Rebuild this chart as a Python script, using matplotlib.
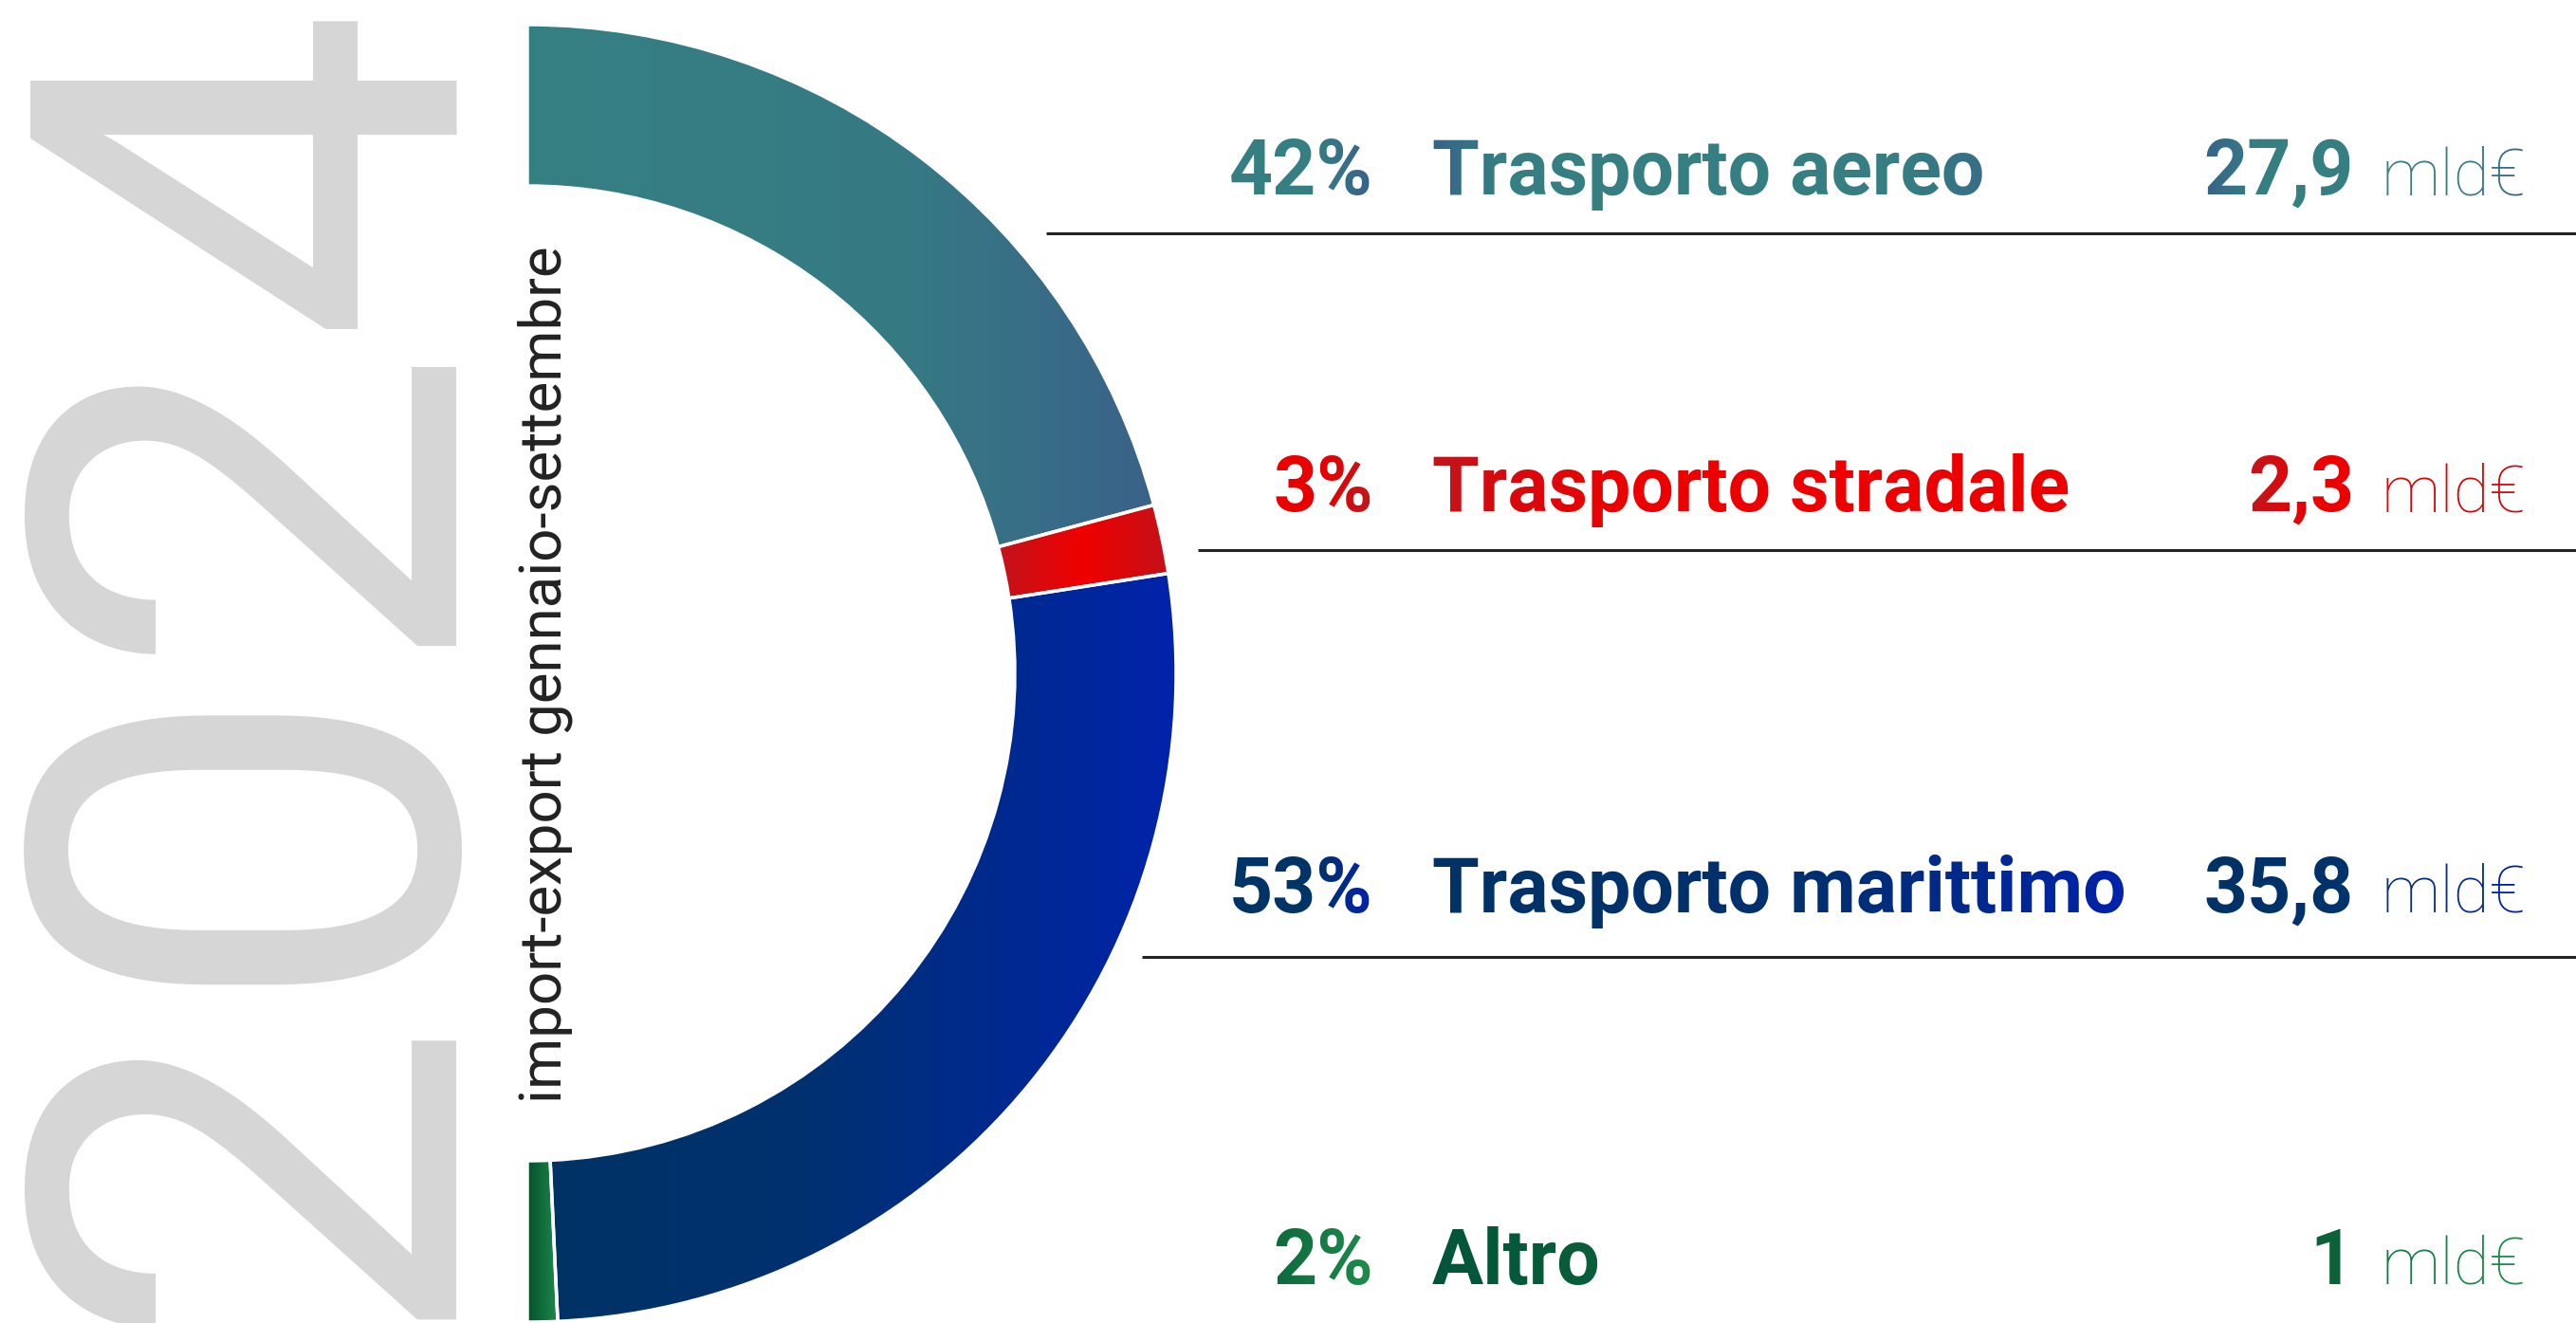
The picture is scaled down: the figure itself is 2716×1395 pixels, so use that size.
import matplotlib
matplotlib.use("Agg")
import matplotlib.pyplot as plt
import numpy as np
from matplotlib.patches import Wedge
from matplotlib.colors import LinearSegmentedColormap

plt.rcParams['font.family'] = ['Roboto', 'DejaVu Sans']

# data
modes = ["Trasporto aereo", "Trasporto stradale", "Trasporto marittimo", "Altro"]
shares = ["42%", "3%", "53%", "2%"]
values = [27.9, 2.3, 35.8, 1.0]
value_labels = ["27,9", "2,3", "35,8", "1"]

# ring gradients (left to right)
ring_stops = [
    [(0.0, "#358083"), (0.6, "#367a84"), (1.0, "#3a6289")],
    [(0.0, "#c1141c"), (0.5, "#f00000"), (1.0, "#c31219")],
    [(0.0, "#003366"), (0.4, "#00316f"), (1.0, "#0023ab")],
    [(0.0, "#05502d"), (1.0, "#1f8b4b")],
]

# text gradients per row: percent, label, number, unit
teal, tblue = "#357f82", "#38638a"
rdark, rbright = "#c1161c", "#ec0000"
navy, blue = "#003366", "#0022aa"
text_stops = [
    [[(0, teal), (0.6, teal), (1, tblue)],
     [(0, tblue), (0.12, teal), (0.85, teal), (1, "#376e88")],
     [(0, tblue), (0.35, teal), (1, teal)],
     [(0, teal), (0.6, teal), (1, tblue)]],
    [[(0, rbright), (0.5, "#e60000"), (1, rdark)],
     [(0, rdark), (0.1, "#d60a0f"), (0.3, rbright), (1, rbright)],
     [(0, rdark), (0.6, rbright), (1, rbright)],
     [(0, rbright), (0.6, "#e00000"), (1, rdark)]],
    [[(0, navy), (0.6, navy), (1, blue)],
     [(0, navy), (0.55, "#00306f"), (1, blue)],
     [(0, navy), (1, "#00326c")],
     [(0, "#05367a"), (1, blue)]],
    [[(0, "#0d6a3c"), (1, "#1f8b4b")],
     [(0, "#00553a"), (1, "#0a5e3a")],
     [(0, "#0b6238"), (1, "#0b6238")],
     [(0, "#137a43"), (1, "#22904e")]],
]


def grad_filter(stops):
    # recolour the rendered text left to right, keeping its alpha
    cmap = LinearSegmentedColormap.from_list("t", stops)

    def f(img, dpi):
        out = img.copy()
        cols = cmap(np.linspace(0, 1, img.shape[1]))[:, :3]
        out[:, :, :3] = cols[None, :, :]
        return out, 0, 0
    return f


W, H = 2716, 1395
fig = plt.figure(figsize=(W / 100, H / 100), dpi=100)
ax = fig.add_axes([0, 0, 1, 1])
ax.axis("off")

# half ring: the hidden wedge takes the left half
wedges, _ = ax.pie(values + [sum(values)], radius=684, center=(556, H - 710),
                   startangle=90, counterclock=False,
                   wedgeprops=dict(width=170, linewidth=0))
wedges[-1].set_visible(False)

for w, stops in zip(wedges[:4], ring_stops):
    cmap = LinearSegmentedColormap.from_list("g", stops)
    bb = w.get_path().get_extents(w.get_transform())
    inv = ax.transData.inverted()
    (x0, y0), (x1, y1) = inv.transform([[bb.x0, bb.y0], [bb.x1, bb.y1]])
    w.set_facecolor(cmap(0.5))
    grad = np.linspace(0, 1, 256).reshape(1, -1)
    ax.imshow(grad, cmap=cmap, extent=[x0, x1, y0, y1], aspect="auto",
              clip_path=w, zorder=2, interpolation="bilinear")
    ax.add_patch(Wedge(w.center, w.r, w.theta1, w.theta2, width=w.width,
                       fill=False, edgecolor="white", linewidth=2.5, zorder=3))

# big year and subtitle
ax.text(453, H + 22, "2024", fontsize=455, fontweight="normal", color="#d6d6d6",
        rotation=90, rotation_mode="anchor", ha="right", va="baseline", zorder=0)
ax.text(591, H - 1163, "import-export gennaio-settembre", fontsize=44.5,
        fontweight="normal", color="#222222", rotation=90,
        rotation_mode="anchor", ha="left", va="baseline")

# table on the right
baselines = [205, 539, 962, 1354]
rules = [(1103, 246), (1263, 580), (1204, 1009)]
for i in range(4):
    yb = H - baselines[i]
    st = text_stops[i]
    t1 = ax.text(1448, yb, shares[i], fontsize=58, fontweight="bold",
                 color=st[0][0][1], ha="right", va="baseline")
    t2 = ax.text(1510, yb, modes[i], fontsize=58, fontweight="bold",
                 color=st[1][0][1], ha="left", va="baseline")
    t3 = ax.text(2482, yb, value_labels[i], fontsize=58, fontweight="bold",
                 color=st[2][0][1], ha="right", va="baseline")
    t4 = ax.text(2510, yb, "mld€", fontsize=50, fontweight="light",
                 color=st[3][0][1], ha="left", va="baseline")
    for t, s in zip([t1, t2, t3, t4], st):
        t.set_agg_filter(grad_filter(s))
for x0, y in rules:
    ax.plot([x0, W], [H - y, H - y], color="#222222", linewidth=2.2,
            solid_capstyle="butt")

ax.set_xlim(0, W)
ax.set_ylim(0, H)
ax.set_aspect("auto")
fig.savefig("out.png", dpi=100, facecolor="white")
